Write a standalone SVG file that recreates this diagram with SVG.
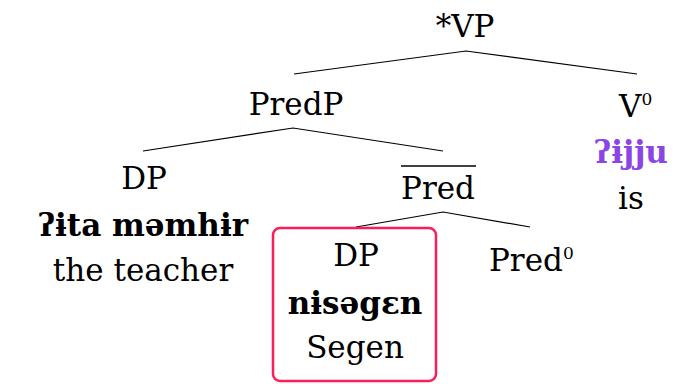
<svg xmlns="http://www.w3.org/2000/svg" width="691" height="384" viewBox="0 0 691 384">
<style>
text{font-family:"DejaVu Serif","Liberation Serif",serif;font-size:31px;fill:#000}
.c{text-anchor:middle}
.b{font-weight:bold}
.p{fill:#8b44e6}
.sup{font-size:17px}
.e{stroke:#000;stroke-width:1.2;fill:none}
</style>
<rect width="691" height="384" fill="#fff"/>
<g id="connectors">
<path class="e" d="M294,74 L466,51 L637,74"/>
<path class="e" d="M143,151 L293,128 L443,151"/>
<path class="e" d="M356,227 L443,212 L530,227"/>
</g>
<g id="vp"><text class="c" x="465" y="37">*VP</text></g>
<g id="predp"><text class="c" x="296" y="115">PredP</text></g>
<g id="v0">
<text x="619" y="117">V<tspan class="sup" dy="-12">0</tspan></text>
<text class="c b p" x="631" y="163">ʔɨjju</text>
<text class="c" x="631" y="209">is</text>
</g>
<g id="dp-subject">
<text class="c" x="144" y="189">DP</text>
<text class="c b" x="143" y="236">ʔɨta məmhɨr</text>
<text class="c" x="143" y="281">the teacher</text>
</g>
<g id="pred-bar">
<line x1="401" y1="166" x2="476" y2="166" stroke="#000" stroke-width="1.5"/>
<text class="c" x="438" y="199">Pred</text>
</g>
<g id="dp-predicate">
<rect x="273" y="228" width="163" height="153" rx="7" fill="none" stroke="#fa1e5a" stroke-width="2.5"/>
<text class="c" x="356" y="266">DP</text>
<text class="c b" x="355" y="314">nɨsəgɛn</text>
<text class="c" x="355" y="358">Segen</text>
</g>
<g id="pred0">
<text x="489" y="271">Pred<tspan class="sup" dy="-12">0</tspan></text>
</g>
</svg>
